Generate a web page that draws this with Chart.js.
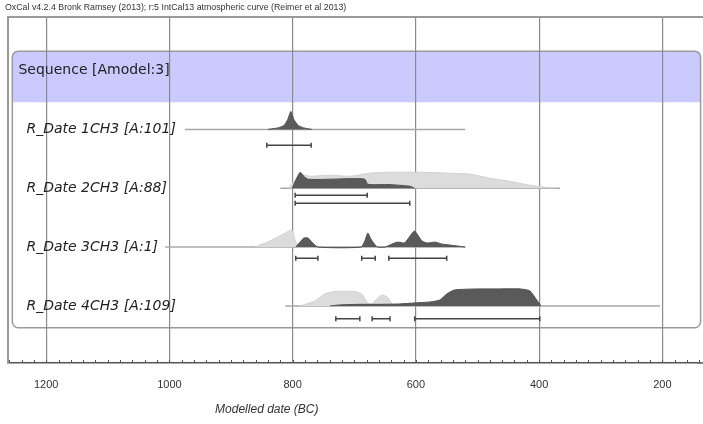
<!DOCTYPE html>
<html>
<head>
<meta charset="utf-8">
<script src="https://cdn.jsdelivr.net/npm/chart.js@4/dist/chart.umd.min.js"></script>
<style>
  body { margin: 0; background: #fff; }
</style>
</head>
<body>
<canvas id="mainChart" width="703" height="424"></canvas>
<script>
// values (years BC, heights relative to max)
const headerText = 'OxCal v4.2.4 Bronk Ramsey (2013); r:5 IntCal13 atmospheric curve (Reimer et al 2013)';
const sequenceLabel = 'Sequence [Amodel:3]';
const rowLabels = ['R_Date 1CH3 [A:101]', 'R_Date 2CH3 [A:88]', 'R_Date 3CH3 [A:1]', 'R_Date 4CH3 [A:109]'];
const tickYears = [1200, 1000, 800, 600, 400, 200];
const axisTitle = 'Modelled date (BC)';

// row extents (plotted range line)
const rowSpans = [[975, 520], [820, 366], [1007, 520], [812, 204]];

// unmodelled (light) likelihoods
const light1Years = [];
const light1Heights = [];
const light2Years = [808, 796, 788, 772, 739, 707, 675, 642, 594, 545, 512, 480, 448, 415, 391, 375];
const light2Heights = [0, 0.4, 0.7, 0.6, 0.65, 0.6, 0.75, 0.8, 0.8, 0.75, 0.7, 0.5, 0.35, 0.15, 0.05, 0];
const light3Years = [861, 837, 812, 801, 795, 788];
const light3Heights = [0, 0.3, 0.7, 0.85, 0.25, 0];
const light4Years = [788, 764, 748, 731, 699, 688, 678, 671, 662, 654, 645, 639, 632];
const light4Heights = [0, 0.25, 0.6, 0.72, 0.72, 0.6, 0.15, 0.1, 0.4, 0.55, 0.4, 0.1, 0];

// modelled (dark) posteriors
const dark1Years = [840, 824, 814, 808, 803, 798, 791, 782, 769];
const dark1Heights = [0, 0.075, 0.2, 0.5, 0.9, 0.5, 0.2, 0.075, 0];
const dark2Years = [801, 795, 788, 782, 775, 739, 707, 683, 678, 642, 610, 602];
const dark2Heights = [0, 0.4, 0.8, 0.6, 0.45, 0.45, 0.48, 0.45, 0.2, 0.18, 0.1, 0];
const dark3Years = [795, 788, 782, 775, 769, 759, 689, 683, 678, 673, 666, 662,
                    650, 639, 629, 619, 613, 606, 602, 597, 590, 581, 569, 558, 545, 532, 520];
const dark3Heights = [0, 0.25, 0.45, 0.45, 0.25, 0, 0, 0.3, 0.7, 0.4, 0.1, 0,
                      0, 0.15, 0.25, 0.2, 0.4, 0.7, 0.8, 0.6, 0.3, 0.2, 0.25, 0.15, 0.1, 0.05, 0];
const dark4Years = [739, 723, 691, 658, 626, 602, 577, 561, 550, 537, 496, 464, 431, 415, 404, 397];
const dark4Heights = [0, 0.05, 0.08, 0.08, 0.1, 0.15, 0.2, 0.3, 0.6, 0.8, 0.85, 0.85, 0.85, 0.75, 0.3, 0];

// highest posterior density ranges [from, to, level]
const ranges1 = [[842, 770, 0]];
const ranges2 = [[796, 679, 0], [796, 610, 1]];
const ranges3 = [[795, 759, 0], [688, 666, 0], [644, 550, 0]];
const ranges4 = [[730, 691, 0], [671, 642, 0], [602, 399, 0]];

const HSCALE = 0.34;          // row units for a height of 1
const RANGE_OFF = [[0.27], [0.12, 0.255], [0.19], [0.22]];

const lightSets = [[light1Years, light1Heights], [light2Years, light2Heights], [light3Years, light3Heights], [light4Years, light4Heights]];
const darkSets = [[dark1Years, dark1Heights], [dark2Years, dark2Heights], [dark3Years, dark3Heights], [dark4Years, dark4Heights]];
const rangeSets = [ranges1, ranges2, ranges3, ranges4];

function curve(years, heights, row) {
    return years.map((x, i) => ({ x: x, y: row - heights[i] * HSCALE }));
}

const datasets = [];
rowLabels.forEach((lbl, i) => {
    const row = i + 1;
    datasets.push({
        data: rowSpans[i].map(x => ({ x: x, y: row })),
        borderColor: '#a8a8a8', borderWidth: 1.5, pointRadius: 0, fill: false, order: 4
    });
    if (lightSets[i][0].length) {
        datasets.push({
            data: curve(lightSets[i][0], lightSets[i][1], row),
            borderColor: '#d0d0d0', backgroundColor: '#dcdcdc', borderWidth: 1,
            pointRadius: 0, tension: 0.2, fill: { value: row }, order: 3
        });
    }
    datasets.push({
        data: curve(darkSets[i][0], darkSets[i][1], row),
        borderColor: '#505050', backgroundColor: '#5a5a5a', borderWidth: 1,
        pointRadius: 0, tension: 0.2, fill: { value: row }, order: 2
    });
    const pts = [];
    rangeSets[i].forEach(r => {
        const y = row + RANGE_OFF[i][r[2]];
        pts.push({ x: r[0], y: y }, { x: r[1], y: y }, { x: r[1], y: null });
    });
    datasets.push({
        data: pts,
        borderColor: '#444', borderWidth: 1.5, fill: false, spanGaps: false,
        pointStyle: 'line', rotation: 90, pointRadius: 2.5, pointBorderWidth: 1.5,
        pointBorderColor: '#444', order: 1
    });
});

const decor = {
    id: 'decor',
    beforeDraw(chart) {
        const ctx = chart.ctx, xs = chart.scales.x, ys = chart.scales.y;
        const x0 = xs.getPixelForValue(1255), x1 = xs.getPixelForValue(138);
        const yTop = ys.getPixelForValue(-0.33), yBand = ys.getPixelForValue(0.54), yBot = ys.getPixelForValue(4.37);
        ctx.save();
        ctx.fillStyle = '#cacaff';
        ctx.beginPath();
        ctx.roundRect(x0, yTop, x1 - x0, yBand - yTop, [6, 6, 0, 0]);
        ctx.fill();
        ctx.strokeStyle = '#9a9a9a';
        ctx.lineWidth = 1.5;
        ctx.beginPath();
        ctx.roundRect(x0, yTop, x1 - x0, yBot - yTop, 6);
        ctx.stroke();
        ctx.restore();
    },
    afterDraw(chart) {
        const ctx = chart.ctx, xs = chart.scales.x, ys = chart.scales.y, ca = chart.chartArea;
        ctx.save();
        // frame
        ctx.strokeStyle = '#999';
        ctx.lineWidth = 2;
        ctx.beginPath();
        ctx.moveTo(ca.left, ca.bottom);
        ctx.lineTo(ca.left, ca.top);
        ctx.lineTo(chart.width, ca.top);
        ctx.stroke();
        ctx.strokeStyle = '#555';
        ctx.lineWidth = 1.5;
        ctx.beginPath();
        ctx.moveTo(ca.right, ca.bottom);
        ctx.lineTo(chart.width, ca.bottom);
        ctx.stroke();
        // minor ticks
        ctx.lineWidth = 1;
        for (let v = 140; v <= 1260; v += 20) {
            const px = Math.round(xs.getPixelForValue(v)) + 0.5;
            ctx.beginPath();
            ctx.moveTo(px, ca.bottom);
            ctx.lineTo(px, ca.bottom - 3);
            ctx.stroke();
        }
        // texts
        ctx.fillStyle = '#333';
        ctx.textBaseline = 'middle';
        ctx.textAlign = 'left';
        ctx.font = '8.8px "Liberation Sans", Arial, sans-serif';
        ctx.fillText(headerText, 5, 8);
        ctx.fillStyle = '#222';
        ctx.font = '14px "DejaVu Sans", sans-serif';
        ctx.fillText(sequenceLabel, xs.getPixelForValue(1245), ys.getPixelForValue(0));
        ctx.font = 'italic 14px "DejaVu Sans", sans-serif';
        rowLabels.forEach((lbl, i) => {
            ctx.fillText(lbl, xs.getPixelForValue(1232), ys.getPixelForValue(i + 1));
        });
        ctx.fillStyle = '#333';
        ctx.textAlign = 'center';
        ctx.font = 'italic 12px "Liberation Sans", Arial, sans-serif';
        ctx.fillText(axisTitle, xs.getPixelForValue(842), 410);
        ctx.restore();
    }
};

new Chart(document.getElementById('mainChart').getContext('2d'), {
    type: 'line',
    data: { datasets: datasets },
    options: {
        responsive: false,
        animation: false,
        layout: { padding: { top: 17, left: 8, right: 0, bottom: 0 } },
        scales: {
            x: {
                type: 'linear', reverse: true, min: 143, max: 1262,
                afterBuildTicks: s => { s.ticks = tickYears.map(v => ({ value: v })); },
                afterFit: s => { s.height = 61; },
                grid: { color: '#8a8a8a', lineWidth: 1.2, drawTicks: false },
                border: { display: true, color: '#555', width: 1.5 },
                ticks: {
                    padding: 15, color: '#333',
                    font: { size: 11, family: '"Liberation Sans", Arial' },
                    callback: v => String(v)
                }
            },
            y: { type: 'linear', display: false, reverse: true, min: -0.91, max: 4.97 }
        },
        plugins: { legend: { display: false }, tooltip: { enabled: false } }
    },
    plugins: [decor]
});
</script>
</body>
</html>
